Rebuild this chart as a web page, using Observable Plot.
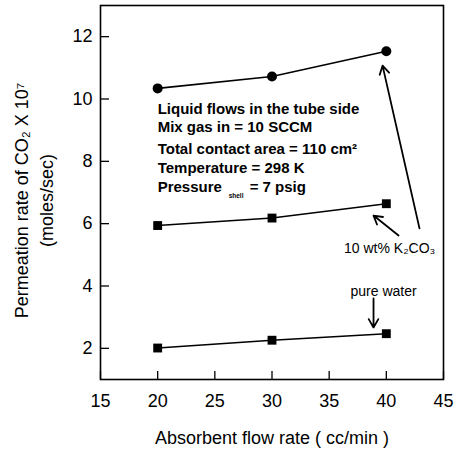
<!DOCTYPE html>
<html>
<head>
<meta charset="utf-8">
<script src="https://cdn.jsdelivr.net/npm/d3@7"></script>
<script src="https://cdn.jsdelivr.net/npm/@observablehq/plot@0.6"></script>
<style>
  body { margin: 0; background: #fff; }
  #chart svg { display: block; }
</style>
</head>
<body>
<div id="chart"></div>
<script>
// ---- data ----
const flowRates = [20, 30, 40];
const k2co3Upper = [10.34, 10.72, 11.53];   // circles
const k2co3Lower = [5.94, 6.18, 6.64];      // squares
const pureWater = [2.01, 2.26, 2.47];       // squares
const xTicks = [15, 20, 25, 30, 35, 40, 45];
const yTicks = [2, 4, 6, 8, 10, 12];

const conditionLines = [
  "Liquid flows in the tube side",
  "Mix gas in = 10 SCCM",
  "Total contact area = 110 cm²",
  "Temperature = 298 K",
  "Pressure"
];
const conditionY = [9.66, 9.08, 8.38, 7.77, 7.16];
const conditionX = 20;
const pressureSub = "shell";
const pressureValue = "= 7 psig";

const yLabel1 = "Permeation rate of CO₂ X 10⁷";
const yLabel2 = "(moles/sec)";
const xLabel = "Absorbent flow rate ( cc/min )";

const labelK2CO3 = {x: 36.3, y: 5.2, text: "10 wt% K₂CO₃"};
const labelWater = {x: 39.76, y: 3.83, text: "pure water"};
const arrows = [
  {x1: 42.9, y1: 5.85, x2: 39.67, y2: 11.07},
  {x1: 41.07, y1: 5.62, x2: 38.88, y2: 6.26},
  {x1: 38.88, y1: 3.6, x2: 38.88, y2: 2.67}
];

const rows = (vals) => flowRates.map((x, i) => ({x, y: vals[i]}));
const upper = rows(k2co3Upper), lower = rows(k2co3Lower), water = rows(pureWater);

const font = "Liberation Sans, Arial, sans-serif";

const chart = Plot.plot({
  width: 454,
  height: 452,
  marginLeft: 100,
  marginRight: 11,
  marginTop: 5,
  marginBottom: 73,
  style: {fontFamily: font, background: "#fff", color: "#000"},
  x: {domain: [15, 45]},
  y: {domain: [1, 13]},
  marks: [
    Plot.frame({stroke: "#000", strokeWidth: 1.6}),
    Plot.axisX({ticks: xTicks, tickSize: -8, tickPadding: 23, fontSize: 18, strokeWidth: 1.3,
      label: xLabel, labelAnchor: "center", labelOffset: 64, labelArrow: "none"}),
    Plot.axisY({ticks: yTicks, tickSize: -9, tickPadding: 17, fontSize: 18, strokeWidth: 1.3, label: null}),
    Plot.text([yLabel1], {frameAnchor: "left", text: d => d, rotate: -90, dx: -78, dy: 8,
      fontSize: 18, fill: "#000", textAnchor: "middle", lineAnchor: "middle"}),
    Plot.text([yLabel2], {frameAnchor: "left", text: d => d, rotate: -90, dx: -53, dy: 8,
      fontSize: 18, fill: "#000", textAnchor: "middle", lineAnchor: "middle"}),
    Plot.line(upper, {x: "x", y: "y", stroke: "#000", strokeWidth: 1.6}),
    Plot.line(lower, {x: "x", y: "y", stroke: "#000", strokeWidth: 1.6}),
    Plot.line(water, {x: "x", y: "y", stroke: "#000", strokeWidth: 1.6}),
    Plot.dot(upper, {x: "x", y: "y", r: 5, fill: "#000", symbol: "circle"}),
    Plot.dot(lower, {x: "x", y: "y", r: 5, fill: "#000", symbol: "square"}),
    Plot.dot(water, {x: "x", y: "y", r: 5, fill: "#000", symbol: "square"}),
    Plot.text(conditionLines, {x: conditionX, y: (d, i) => conditionY[i], text: d => d,
      textAnchor: "start", fontSize: 15, fontWeight: "bold", fill: "#000", letterSpacing: -0.7}),
    Plot.text([pressureSub], {x: conditionX, y: conditionY[4], text: d => d, dx: 71, dy: 8,
      textAnchor: "start", fontSize: 6.5, fontWeight: "bold", fill: "#000"}),
    Plot.text([pressureValue], {x: conditionX, y: conditionY[4], text: d => d, dx: 92,
      textAnchor: "start", fontSize: 15, fontWeight: "bold", fill: "#000", letterSpacing: -0.7}),
    Plot.text([labelK2CO3], {x: "x", y: "y", text: "text", textAnchor: "start", fontSize: 14, fill: "#000"}),
    Plot.text([labelWater], {x: "x", y: "y", text: "text", textAnchor: "middle", fontSize: 14, fill: "#000"}),
    Plot.arrow(arrows, {x1: "x1", y1: "y1", x2: "x2", y2: "y2", stroke: "#000", strokeWidth: 1.8, headLength: 8})
  ]
});
document.getElementById("chart").appendChild(chart);
</script>
</body>
</html>
